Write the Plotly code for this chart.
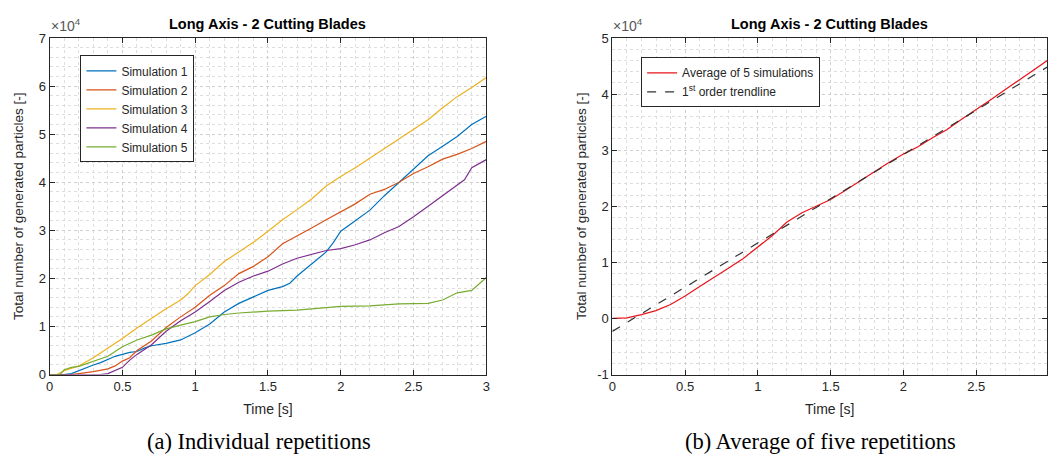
import plotly.graph_objects as go

# ---------------- data (values in units of 10^4 particles) ----------------
t_sim1 = [0, 0.1, 0.15, 0.2, 0.25, 0.3, 0.35, 0.4, 0.45, 0.5, 0.55, 0.6, 0.65, 0.7, 0.8, 0.9, 0.95,
          1.0, 1.1, 1.2, 1.3, 1.4, 1.5, 1.6, 1.65, 1.7, 1.8, 1.9, 1.95, 2.0, 2.1, 2.2, 2.3, 2.4,
          2.5, 2.6, 2.7, 2.8, 2.9, 3.0]
sim1 = [0, 0, 0.02, 0.08, 0.15, 0.2, 0.25, 0.32, 0.38, 0.42, 0.46, 0.48, 0.55, 0.6, 0.65, 0.72, 0.8,
        0.87, 1.05, 1.3, 1.48, 1.62, 1.75, 1.83, 1.9, 2.05, 2.3, 2.55, 2.75, 2.98, 3.2, 3.42, 3.72, 4.0,
        4.28, 4.55, 4.75, 4.95, 5.2, 5.37]

t_sim2 = [0, 0.15, 0.2, 0.3, 0.4, 0.45, 0.5, 0.55, 0.6, 0.65, 0.7, 0.8, 0.9, 1.0, 1.1, 1.2, 1.3,
          1.4, 1.5, 1.6, 1.7, 1.8, 1.9, 2.0, 2.1, 2.2, 2.3, 2.4, 2.5, 2.6, 2.7, 2.8, 2.9, 3.0]
sim2 = [0, 0, 0.02, 0.06, 0.12, 0.18, 0.28, 0.35, 0.5, 0.6, 0.7, 0.98, 1.2, 1.4, 1.65, 1.85, 2.1,
        2.25, 2.45, 2.72, 2.88, 3.05, 3.22, 3.38, 3.55, 3.75, 3.85, 4.0, 4.18, 4.32, 4.48, 4.58, 4.7, 4.85]

t_sim3 = [0, 0.05, 0.1, 0.2, 0.3, 0.4, 0.5, 0.6, 0.7, 0.8, 0.9, 0.95, 1.0, 1.1, 1.2, 1.3, 1.4, 1.5,
          1.6, 1.7, 1.8, 1.9, 2.0, 2.1, 2.2, 2.3, 2.4, 2.5, 2.6, 2.7, 2.8, 2.9, 3.0]
sim3 = [0, 0, 0.08, 0.18, 0.35, 0.55, 0.75, 0.97, 1.17, 1.37, 1.55, 1.68, 1.85, 2.08, 2.35, 2.55,
        2.75, 2.98, 3.22, 3.43, 3.65, 3.92, 4.12, 4.3, 4.5, 4.7, 4.9, 5.1, 5.3, 5.55, 5.78, 5.97, 6.18]

t_sim4 = [0, 0.35, 0.4, 0.45, 0.5, 0.55, 0.6, 0.7, 0.8, 0.9, 1.0, 1.1, 1.2, 1.3, 1.4, 1.5, 1.6, 1.7,
          1.8, 1.9, 2.0, 2.1, 2.2, 2.3, 2.4, 2.5, 2.6, 2.7, 2.8, 2.85, 2.9, 3.0]
sim4 = [0, 0, 0.02, 0.08, 0.15, 0.3, 0.42, 0.62, 0.9, 1.12, 1.3, 1.52, 1.75, 1.92, 2.05, 2.15, 2.3,
        2.42, 2.5, 2.58, 2.62, 2.7, 2.8, 2.95, 3.08, 3.28, 3.5, 3.72, 3.95, 4.05, 4.3, 4.47]

t_sim5 = [0, 0.07, 0.1, 0.15, 0.2, 0.3, 0.4, 0.5, 0.6, 0.7, 0.8, 0.9, 1.0, 1.1, 1.2, 1.3, 1.4, 1.5,
          1.7, 1.8, 2.0, 2.2, 2.4, 2.6, 2.7, 2.8, 2.9, 3.0]
sim5 = [0, 0, 0.1, 0.15, 0.17, 0.27, 0.38, 0.58, 0.72, 0.82, 0.95, 1.03, 1.1, 1.2, 1.25, 1.28, 1.3,
        1.32, 1.34, 1.37, 1.42, 1.43, 1.47, 1.48, 1.55, 1.7, 1.75, 2.02]

t_avg = [0, 0.1, 0.2, 0.3, 0.4, 0.5, 0.6, 0.7, 0.8, 0.9, 1.0, 1.1, 1.2, 1.3, 1.4, 1.5, 1.6, 1.7,
         1.8, 1.9, 2.0, 2.1, 2.2, 2.3, 2.4, 2.5, 2.6, 2.7, 2.8, 2.9, 3.0]
avg = [0, 0.01, 0.07, 0.14, 0.25, 0.4, 0.57, 0.73, 0.9, 1.07, 1.27, 1.48, 1.72, 1.88, 2.0, 2.12,
       2.28, 2.45, 2.62, 2.78, 2.93, 3.06, 3.22, 3.37, 3.55, 3.72, 3.9, 4.08, 4.26, 4.45, 4.62]

t_trend = [0, 3]
trend = [-0.23, 4.5]

names = ["Simulation 1", "Simulation 2", "Simulation 3", "Simulation 4", "Simulation 5"]
colors = ["#0072BD", "#D95319", "#EDB120", "#7E2F8E", "#77AC30"]

x_ticks = [0, 0.5, 1, 1.5, 2, 2.5, 3]
x_ticktext = ["0", "0.5", "1", "1.5", "2", "2.5", "3"]
yl_ticks = [0, 1, 2, 3, 4, 5, 6, 7]
yl_ticktext = ["0", "1", "2", "3", "4", "5", "6", "7"]
yr_ticks = [-1, 0, 1, 2, 3, 4, 5]
yr_ticktext = ["-1", "0", "1", "2", "3", "4", "5"]

# ---------------- figure ----------------
W, H = 1051, 459
FONT = "Liberation Sans, Arial, sans-serif"
SERIF = "Liberation Serif, DejaVu Serif, serif"
AX = "#262626"

fig = go.Figure()
series = [(t_sim1, sim1), (t_sim2, sim2), (t_sim3, sim3), (t_sim4, sim4), (t_sim5, sim5)]
for (tt, vv), nm, c in zip(series, names, colors):
    fig.add_trace(go.Scatter(x=tt, y=vv, mode="lines", name=nm, line=dict(color=c, width=1.2),
                             xaxis="x", yaxis="y", legend="legend"))

fig.add_trace(go.Scatter(x=t_avg, y=avg, mode="lines", name="Average of 5 simulations",
                         line=dict(color="#E8141B", width=1.2), xaxis="x2", yaxis="y2", legend="legend2"))
fig.add_trace(go.Scatter(x=t_trend, y=trend, mode="lines", name="1<sup>st</sup> order trendline",
                         line=dict(color="#333333", width=1.2, dash="dash"), xaxis="x2", yaxis="y2",
                         legend="legend2"))

def px(x):
    return x / W

def py(y):
    return 1 - y / H

common_ax = dict(
    showline=True, linecolor=AX, linewidth=1, mirror="allticks",
    ticks="inside", ticklen=5, tickcolor=AX, tickwidth=1,
    showgrid=True, gridcolor="#cfcfcf", griddash="dot", gridwidth=1,
    zeroline=False, tickfont=dict(family=FONT, size=13, color=AX),
)
minor = dict(showgrid=True, gridcolor="#dedede", griddash="dot", gridwidth=1, ticks="")

xl_dom = [px(46), px(486)]
xr_dom = [px(613), 1.0]
y_dom = [py(380), py(32)]
R = 3 * (W - 613) / 440.0

xtitle_font = dict(family=FONT, size=14, color=AX)
ytitle_font = dict(family=FONT, size=13.5, color=AX)

fig.update_layout(
    width=W, height=H, margin=dict(l=0, r=0, t=0, b=0),
    paper_bgcolor="white", plot_bgcolor="white",
    font=dict(family=FONT, size=12, color=AX),
    xaxis=dict(domain=xl_dom, range=[0, 3], tickvals=x_ticks, ticktext=x_ticktext,
               minor=dict(dtick=0.1, **minor), anchor="y",
               title=dict(text="Time [s]", standoff=11, font=xtitle_font),
               **common_ax),
    yaxis=dict(domain=y_dom, range=[0, 7], tickvals=yl_ticks, ticktext=yl_ticktext,
               minor=dict(dtick=0.2, **minor), anchor="x",
               title=dict(text="Total number of generated particles [-]", standoff=12, font=ytitle_font),
               **common_ax),
    xaxis2=dict(domain=xr_dom, range=[0, R], tickvals=x_ticks, ticktext=x_ticktext,
                minor=dict(dtick=0.1, **minor), anchor="y2",
                title=dict(text="Time [s]", standoff=11, font=xtitle_font),
                **common_ax),
    yaxis2=dict(domain=y_dom, range=[-1, 5], tickvals=yr_ticks, ticktext=yr_ticktext,
                minor=dict(dtick=0.2, **minor), anchor="x2",
                title=dict(text="Total number of generated particles [-]", standoff=7, font=ytitle_font),
                **common_ax),
    legend=dict(x=px(77), y=py(50), xanchor="left", yanchor="top", bgcolor="white",
                bordercolor=AX, borderwidth=1, font=dict(family=FONT, size=12, color=AX),
                tracegroupgap=0, itemwidth=30),
    legend2=dict(x=px(642), y=py(52), xanchor="left", yanchor="top", bgcolor="white",
                 bordercolor=AX, borderwidth=1, font=dict(family=FONT, size=12, color=AX),
                 tracegroupgap=0, itemwidth=30),
    showlegend=True,
)

annotations = [
    dict(text="<b>Long Axis - 2 Cutting Blades</b>", x=px(266), y=py(18), xref="paper", yref="paper",
         showarrow=False, font=dict(family=FONT, size=14.5, color="black"), xanchor="center", yanchor="middle"),
    dict(text="<b>Long Axis - 2 Cutting Blades</b>", x=px(832), y=py(18), xref="paper", yref="paper",
         showarrow=False, font=dict(family=FONT, size=14.5, color="black"), xanchor="center", yanchor="middle"),
    dict(text="×10<sup>4</sup>", x=px(45), y=py(30), xref="paper", yref="paper", showarrow=False,
         font=dict(family=FONT, size=14, color="#555555"), xanchor="left", yanchor="bottom"),
    dict(text="×10<sup>4</sup>", x=px(612), y=py(30), xref="paper", yref="paper", showarrow=False,
         font=dict(family=FONT, size=14, color="#555555"), xanchor="left", yanchor="bottom"),
    dict(text="(a) Individual repetitions", x=px(257), y=py(449), xref="paper", yref="paper",
         showarrow=False, font=dict(family=SERIF, size=22.5, color="black"),
         xanchor="center", yanchor="middle"),
    dict(text="(b) Average of five repetitions", x=px(823), y=py(449), xref="paper", yref="paper",
         showarrow=False, font=dict(family=SERIF, size=22.5, color="black"),
         xanchor="center", yanchor="middle"),
]
fig.update_layout(annotations=annotations)

fig.write_html("out.html")
